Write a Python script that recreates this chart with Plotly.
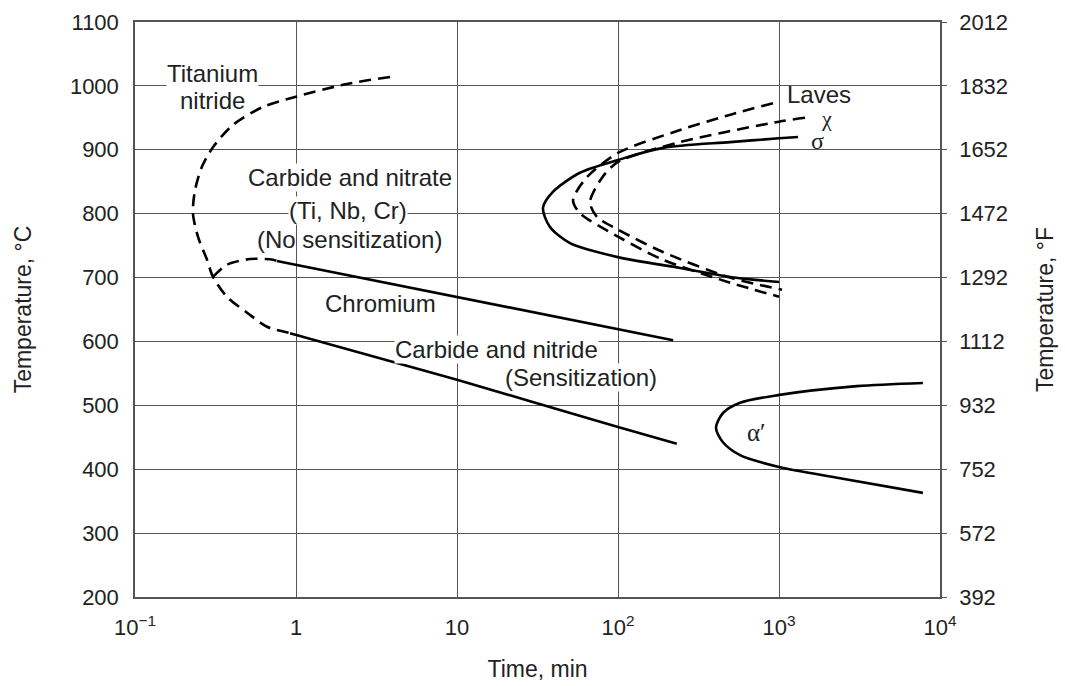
import plotly.graph_objects as go

# ---- data (time in min, temperature in °C) ----
ti_nitride_t = [3.84, 2.07, 1.0, 0.624, 0.406, 0.305, 0.26, 0.236, 0.229, 0.246, 0.28, 0.305, 0.372, 0.497, 0.66, 0.918]
ti_nitride_T = [1014, 1003, 983, 967, 939, 904, 873, 837, 801, 764, 728, 701, 670, 645, 623, 613]

cr_dash_t = [0.305, 0.372, 0.518, 0.72, 0.76]
cr_dash_T = [701, 720, 729, 728, 726]
cr_solid_t = [0.76, 220]
cr_solid_T = [726, 602]

sens_t = [0.918, 10, 100, 232]
sens_T = [613, 540, 466, 440]

sigma_t = [1313, 1000, 497, 190, 100, 58, 39.4, 34.2, 37.8, 50.3, 100, 243, 497, 1000]
sigma_T = [920, 918, 912, 903, 884, 864, 834, 809, 779, 754, 732, 715, 701, 693]

chi_t = [1450, 1000, 243, 100, 79.4, 67, 74, 100, 190, 497, 1045]
chi_T = [950, 944, 912, 881, 856, 818, 795, 775, 740, 700, 681]

laves_t = [918, 500, 243, 100, 64, 52.6, 58, 100, 190, 497, 1000]
laves_T = [973, 955, 931, 895, 857, 821, 801, 764, 728, 692, 670]

alpha_t = [7830, 3050, 986, 573, 449, 406, 446, 573, 986, 2393, 7830]
alpha_T = [535, 530, 516, 504, 488, 465, 443, 422, 404, 386, 363]

x_ticks = [0.1, 1, 10, 100, 1000, 10000]
x_ticktext = ["10<sup>\u22121</sup>", "1", "10", "10<sup>2</sup>", "10<sup>3</sup>", "10<sup>4</sup>"]
c_ticks = [200, 300, 400, 500, 600, 700, 800, 900, 1000, 1100]
f_ticks = [392, 572, 752, 932, 1112, 1292, 1472, 1652, 1832, 2012]

FONT = "Liberation Sans, Arial, Helvetica, sans-serif"
SERIF = "Liberation Serif, Times New Roman, serif"
LW = 2.6
DASH = "12px,7px"

fig = go.Figure()

def add(t, T, dash=None, shape="spline"):
    fig.add_trace(go.Scatter(x=t, y=T, mode="lines",
                             line=dict(color="black", width=LW, dash=dash or "solid",
                                       shape=shape, smoothing=0.8),
                             showlegend=False, hoverinfo="skip"))

add(ti_nitride_t, ti_nitride_T, DASH)
add(cr_dash_t, cr_dash_T, DASH)
add(cr_solid_t, cr_solid_T, shape="linear")
add(sens_t, sens_T)
add(sigma_t, sigma_T)
add(chi_t, chi_T, DASH)
add(laves_t, laves_T, DASH)
add(alpha_t, alpha_T)

# invisible trace for right axis
fig.add_trace(go.Scatter(x=[0.1], y=[392], yaxis="y2", mode="markers",
                         marker=dict(opacity=0), showlegend=False, hoverinfo="skip"))

def ann(lx, y, text, size=24, bg="white", family=FONT):
    fig.add_annotation(x=lx, y=y, xref="x", yref="y", text=text, showarrow=False,
                       font=dict(family=family, size=size, color="#222"),
                       bgcolor=bg, borderpad=0, xanchor="center", align="center")

ann(-0.516, 1019, "Titanium")
ann(-0.516, 977, "nitride", bg=None)
ann(0.335, 856, "Carbide and nitrate")
ann(0.320, 805, "(Ti, Nb, Cr)")
ann(0.330, 760, "(No sensitization)", bg=None)
ann(0.522, 660, "Chromium", bg=None)
ann(1.248, 587, "Carbide and nitride")
ann(1.770, 543, "(Sensitization)")
ann(3.248, 987, "Laves", bg=None)
ann(3.292, 949, "\u03c7", bg=None, family=SERIF, size=22)
ann(3.236, 914, "\u03c3", bg=None, family=SERIF)
ann(2.863, 458, "\u03b1\u2032", bg=None, family=SERIF, size=25)

fig.update_layout(
    width=1065, height=686,
    margin=dict(l=135, r=125, t=22, b=89, autoexpand=False),
    paper_bgcolor="white", plot_bgcolor="white",
    font=dict(family=FONT, size=22, color="#222"),
    xaxis=dict(type="log", range=[-1, 4], tickvals=x_ticks, ticktext=x_ticktext,
               showgrid=True, gridcolor="#555", gridwidth=1,
               showline=True, linecolor="#555", linewidth=1.5, mirror=True,
               ticks="", ticklabelstandoff=10, zeroline=False, automargin=False,
               tickfont=dict(size=22),
               title=dict(text="Time, min", standoff=22, font=dict(size=23))),
    yaxis=dict(range=[200, 1100], tickvals=c_ticks,
               showgrid=True, gridcolor="#555", gridwidth=1,
               showline=True, linecolor="#555", linewidth=1.5,
               ticks="", ticklabelstandoff=10, zeroline=False, automargin=False,
               tickfont=dict(size=22),
               title=dict(text="Temperature, \u00b0C", standoff=32, font=dict(size=23))),
    yaxis2=dict(range=[392, 2012], tickvals=f_ticks, overlaying="y", side="right",
                showgrid=False, showline=True, linecolor="#555", linewidth=1.5,
                ticks="outside", ticklen=5, tickcolor="#555", zeroline=False,
                ticklabelstandoff=8, tickfont=dict(size=22), automargin=False,
                title=dict(text="Temperature, \u00b0F", standoff=30, font=dict(size=23))),
)

fig.write_html("out.html")
